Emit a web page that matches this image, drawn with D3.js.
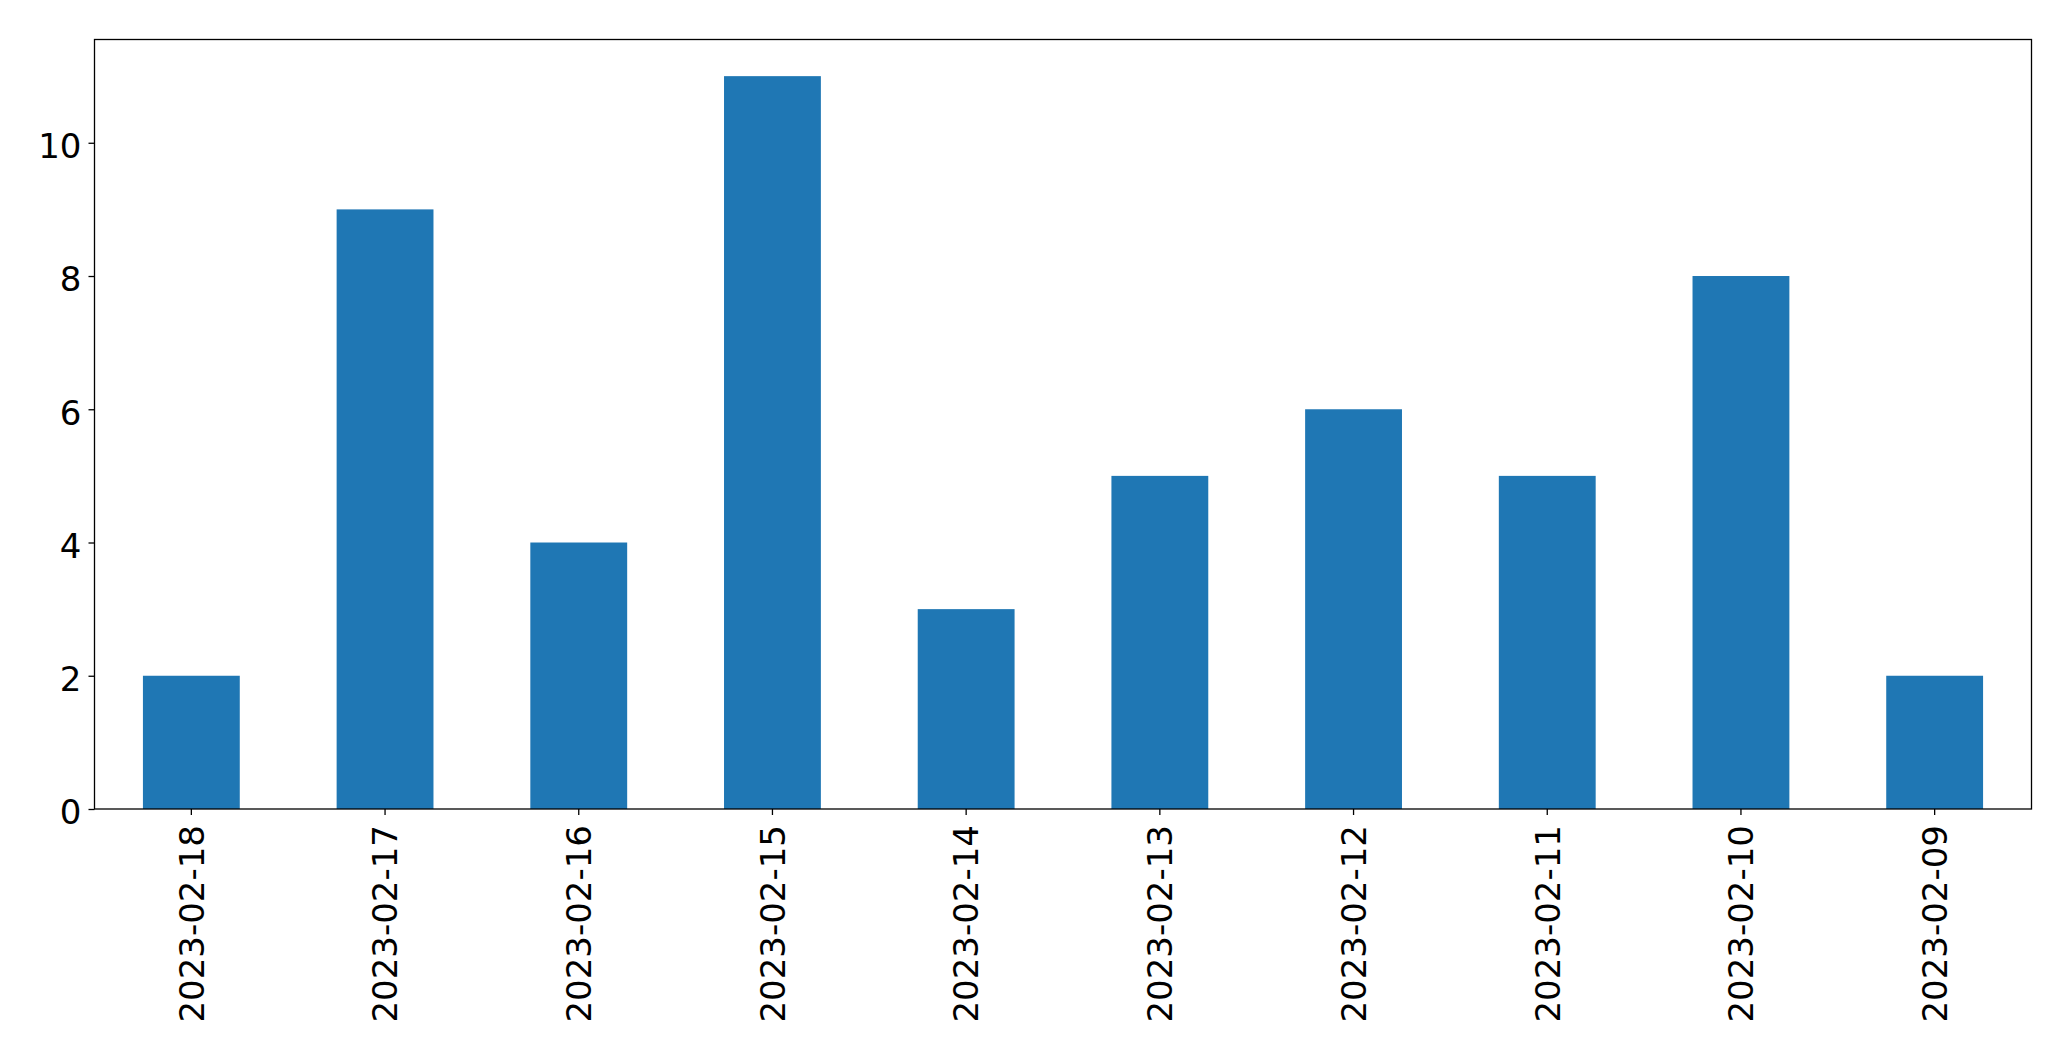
<!DOCTYPE html>
<html><head><meta charset="utf-8">
<script src="https://cdn.jsdelivr.net/npm/d3@7"></script>
<style>body{margin:0;background:#fff}svg{display:block}</style>
</head><body>
<script>
const categories = ["2023-02-18","2023-02-17","2023-02-16","2023-02-15","2023-02-14","2023-02-13","2023-02-12","2023-02-11","2023-02-10","2023-02-09"];
const values = [2,9,4,11,3,5,6,5,8,2];
const yTicks = [0,2,4,6,8,10];

(function(){
const W = 2071, H = 1061;
const mLeft = 94.5, mRight = 2031.5, mTop = 39.5, mBottom = 809;
const svg = d3.select("body").append("svg").attr("width", W).attr("height", H);

const x = d3.scaleBand().domain(categories).range([mLeft, mRight]).paddingInner(0.5).paddingOuter(0.25);
const y = d3.scaleLinear().domain([0, d3.max(values) * 1.05]).range([mBottom, mTop]);

svg.append("g").selectAll("rect").data(values).join("rect")
  .attr("x", (d, i) => x(categories[i]))
  .attr("width", x.bandwidth())
  .attr("y", d => y(d))
  .attr("height", d => y(0) - y(d))
  .attr("fill", "#1f77b4");

const font = "DejaVu Sans, sans-serif";
const gx = svg.append("g").attr("transform", `translate(0,${mBottom})`)
  .call(d3.axisBottom(x).tickSize(6).tickPadding(0).tickSizeOuter(0));
gx.select(".domain").remove();
gx.selectAll(".tick line").attr("stroke", "#000").attr("stroke-width", 1.3);
gx.selectAll(".tick text")
  .attr("font-family", font).attr("font-size", 34).attr("fill", "#000")
  .attr("text-anchor", "end")
  .attr("transform", "translate(0,16) rotate(-90)")
  .attr("x", 0).attr("y", 0).attr("dy", "0.36em");

const gy = svg.append("g").attr("transform", `translate(${mLeft},0)`)
  .call(d3.axisLeft(y).tickValues(yTicks).tickFormat(d3.format("d")).tickSize(6).tickPadding(7).tickSizeOuter(0));
gy.select(".domain").remove();
gy.selectAll(".tick line").attr("stroke", "#000").attr("stroke-width", 1.3);
gy.selectAll(".tick text").attr("font-family", font).attr("font-size", 34).attr("fill", "#000").attr("dy", "0.44em");

svg.append("rect").attr("x", mLeft).attr("y", mTop).attr("width", mRight - mLeft).attr("height", mBottom - mTop)
  .attr("fill", "none").attr("stroke", "#000").attr("stroke-width", 1.3);
})();
</script>
</body></html>
